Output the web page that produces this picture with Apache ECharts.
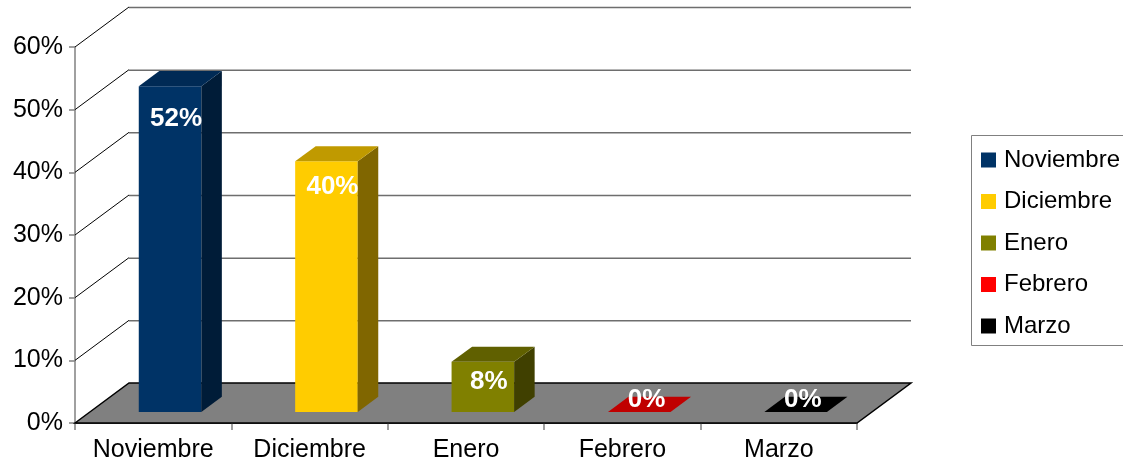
<!DOCTYPE html>
<html>
<head>
<meta charset="utf-8">
<script src="https://cdn.jsdelivr.net/npm/echarts@6/dist/echarts.min.js"></script>
<style>
  html, body { margin: 0; padding: 0; background: #fff; }
  #chart { width: 1123px; height: 463px; }
</style>
</head>
<body>
<div id="chart"></div>
<script>
// Monthly share, percent
const categories = ['Noviembre', 'Diciembre', 'Enero', 'Febrero', 'Marzo'];
const values = [52, 40, 8, 0, 0];
const yTicks = [0, 10, 20, 30, 40, 50, 60];

// Face colours per month
const frontColors = ['#003366', '#FFCC00', '#808000', '#FF0000', '#000000'];
const topColors   = ['#002a55', '#C09A00', '#606000', '#C00000', '#000000'];
const sideColors  = ['#001c38', '#806600', '#404000', '#800000', '#000000'];

const FONT = '"Liberation Sans", Arial, sans-serif';

// Oblique depth of the chart box (pixels) and bar placement inside it
const DX = 54, DY = -40;
const F1 = 0.275;   // depth fraction of the bar front face
const BD = 0.38;    // bar depth as fraction of box depth

const chart = echarts.init(document.getElementById('chart'));

// Back wall gridlines and the floor
function renderWall(params, api) {
  const v = api.value(1);
  const cs = params.coordSys;
  const x0 = cs.x, x1 = cs.x + cs.width;
  const y = api.coord([0, v])[1];
  if (v === 0) {
    return {
      type: 'polygon',
      shape: { points: [[x0, y], [x0 + DX, y + DY], [x1 + DX, y + DY], [x1, y]] },
      style: { fill: '#808080', stroke: '#000', lineWidth: 1.5 },
      z2: 0
    };
  }
  return {
    type: 'group',
    children: [
      {
        type: 'line',
        shape: { x1: x0, y1: y, x2: x0 + DX, y2: y + DY },
        style: { stroke: '#000', lineWidth: 1 }
      },
      {
        type: 'line',
        shape: { x1: x0 + DX, y1: y + DY + 0.5, x2: x1 + DX, y2: y + DY + 0.5 },
        style: { stroke: '#6e6e6e', lineWidth: 1.5 }
      }
    ]
  };
}

// One 3D box per month
function makeBarRenderer(idx) {
  return function (params, api) {
    const i = api.value(0), v = api.value(1);
    const base = api.coord([i, 0]);
    const top = api.coord([i, v]);
    const catW = api.size([1, 0])[0];
    const w = catW * 0.4;
    const cx = base[0] + F1 * DX + 2;
    const yb = base[1] + F1 * DY;
    const h = base[1] - top[1];
    const xl = cx - w / 2, xr = cx + w / 2;
    const yt = yb - h;
    const bdx = BD * DX, bdy = BD * DY;
    const children = [];
    if (h > 0.5) {
      children.push({
        type: 'rect',
        shape: { x: xl, y: yt, width: w, height: h },
        style: { fill: frontColors[idx] }
      });
      children.push({
        type: 'polygon',
        shape: { points: [[xr, yb], [xr + bdx, yb + bdy], [xr + bdx, yt + bdy], [xr, yt]] },
        style: { fill: sideColors[idx] }
      });
    }
    children.push({
      type: 'polygon',
      shape: { points: [[xl, yt], [xr, yt], [xr + bdx, yt + bdy], [xl + bdx, yt + bdy]] },
      style: { fill: topColors[idx] }
    });
    let lx, ly;
    if (h > 0.5) {
      lx = cx + 6;
      ly = Math.max(yt + 20, yb - 0.9 * h);
    } else {
      lx = cx + bdx / 2 - 3;
      ly = yb + bdy / 2 - 5;
    }
    children.push({
      type: 'text',
      style: {
        text: v + '%',
        x: lx, y: ly,
        align: 'center', verticalAlign: 'middle',
        fill: '#ffffff',
        fontSize: 26, fontWeight: 'bold', fontFamily: FONT
      }
    });
    return { type: 'group', children: children };
  };
}

const series = [{
  type: 'custom',
  name: 'wall',
  silent: true,
  clip: false,
  z: 1,
  renderItem: renderWall,
  encode: { x: 0, y: 1 },
  data: yTicks.map(t => [0, t])
}];

categories.forEach((name, idx) => {
  series.push({
    type: 'custom',
    name: name,
    clip: false,
    z: 3,
    itemStyle: { color: frontColors[idx] },
    renderItem: makeBarRenderer(idx),
    encode: { x: 0, y: 1 },
    data: [[idx, values[idx]]]
  });
});

chart.setOption({
  animation: false,
  backgroundColor: '#ffffff',
  grid: { left: 75, right: 266, top: 47, bottom: 40 },
  // Legend frame: open on the right, where it runs past the canvas edge
  graphic: [{
    type: 'polyline',
    silent: true,
    x: 0, y: 0,
    shape: { points: [[1130, 135.5], [971.5, 135.5], [971.5, 345.5], [1130, 345.5]] },
    style: { fill: null, stroke: '#808080', lineWidth: 1 }
  }],
  legend: {
    data: categories,
    orient: 'vertical',
    left: 971, top: 135,
    icon: 'rect',
    itemWidth: 15, itemHeight: 15,
    itemGap: 17.5,
    padding: [13, 8, 7, 10],
    borderWidth: 0,
    selectedMode: false,
    textStyle: { fontSize: 24, color: '#000', fontFamily: FONT, lineHeight: 24, padding: [0, 0, 0, 3] }
  },
  xAxis: {
    type: 'category',
    data: categories,
    boundaryGap: true,
    axisLine: { show: true, lineStyle: { color: '#000', width: 1.5 } },
    axisTick: { show: true, length: 7, lineStyle: { color: '#808080', width: 1.5 } },
    axisLabel: { color: '#000', fontSize: 25, fontFamily: FONT, margin: 15, interval: 0 },
    splitLine: { show: false }
  },
  yAxis: {
    type: 'value',
    min: 0, max: 60, interval: 10,
    axisLine: { show: true, lineStyle: { color: '#808080', width: 1.5 } },
    axisTick: { show: true, length: 6, lineStyle: { color: '#808080', width: 1.5 } },
    axisLabel: { color: '#000', fontSize: 25, fontFamily: FONT, margin: 12, formatter: '{value}%' },
    splitLine: { show: false }
  },
  series: series
});
</script>
</body>
</html>
